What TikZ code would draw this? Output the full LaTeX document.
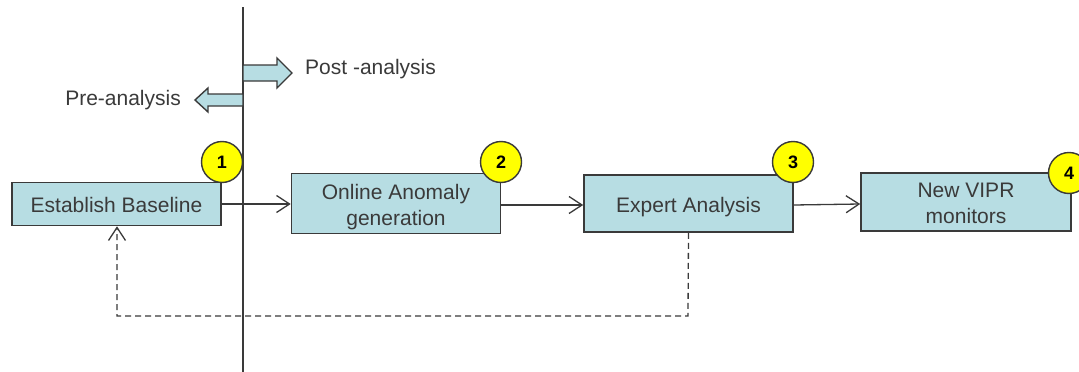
\documentclass[tikz,border=0pt]{standalone}
\usepackage{fontspec}
\setmainfont{Liberation Sans}
\usetikzlibrary{arrows.meta}
\definecolor{boxfill}{HTML}{B7DDE3}
\definecolor{ink}{HTML}{3A3A3A}
\definecolor{badge}{HTML}{FFFF00}
% struts that give every step label the same top and bottom
\newcommand\stepTop{\rule{0pt}{22pt}}
\newcommand\stepBot{\rule[-5pt]{0pt}{5pt}}
\tikzset{
  stepbox/.style={draw=ink, line width=1.6pt, fill=boxfill, minimum width=209pt,
    align=center, font=\fontsize{21}{26}\selectfont, text=ink, inner sep=0pt},
  badgecircle/.style={circle, draw=ink, line width=1.4pt, fill=badge, minimum size=41pt,
    inner sep=0pt, font=\fontsize{18}{18}\selectfont\bfseries, text=black},
  flow/.style={draw=ink, line width=1.3pt, -{Straight Barb[length=13pt,width=17pt,line width=1.3pt]}},
  feedback/.style={flow, dash pattern=on 6pt off 4pt},
  blockarrow/.style={draw=ink, line width=1.4pt, fill=boxfill},
  caption/.style={font=\fontsize{21}{24}\selectfont, text=ink, inner sep=0pt}
}
\begin{document}
\begin{tikzpicture}[x=1pt,y=-1pt]
\useasboundingbox (0,0) rectangle (1079,372);
\clip (0,0) rectangle (1079,372);
\fill[white] (0,0) rectangle (1079,372);

% pre/post analysis divider
\coordinate (divtop) at (243,7);
\coordinate (divbot) at (243,372);
\draw[ink, line width=2.2pt] (divtop) -- (divbot);

% block arrows on either side of the divider
\draw[blockarrow] (243,65) -- (277,65) -- (277,58) -- (292,73) -- (277,88) -- (277,81) -- (243,81) -- cycle;
\draw[blockarrow] (243,94) -- (208,94) -- (208,88) -- (195,100) -- (208,112) -- (208,106) -- (243,106) -- cycle;
\node[caption, anchor=west] (post) at (305,69) {Post -analysis};
\node[caption, anchor=east] (pre) at (181,100) {Pre-analysis};

% process steps
\node[stepbox, minimum height=43pt] (s1) at (116.5,204) {\stepTop Establish Baseline\stepBot};
\node[stepbox, minimum height=60pt] (s2) at (396,203.5) {\stepTop Online Anomaly\\generation\stepBot};
\node[stepbox, minimum height=57pt] (s3) at (688.5,203.5) {\stepTop Expert Analysis\stepBot};
\node[stepbox, minimum height=58pt, minimum width=210pt] (s4) at (966,202) {\stepTop New VIPR\\monitors\stepBot};

% step numbers
\node[badgecircle] (b1) at (222,162) {1};
\node[badgecircle] (b2) at (501,162) {2};
\node[badgecircle] (b3) at (793,162) {3};
\node[badgecircle] (b4) at (1069,173) {4};

% forward flow
\draw[flow] (s1.east |- 0,204) -- (s2.west |- 0,204);
\draw[flow] (s2.east |- 0,205) -- (s3.west |- 0,205);
\draw[flow] (s3.east |- 0,205) -- (s4.west |- 0,204);

% feedback loop
\coordinate (fbr) at (688,316);
\coordinate (fbl) at (117,316);
\draw[feedback] (s3.south) -- (fbr) -- (fbl) -- (s1.south -| fbl);
\end{tikzpicture}
\end{document}
